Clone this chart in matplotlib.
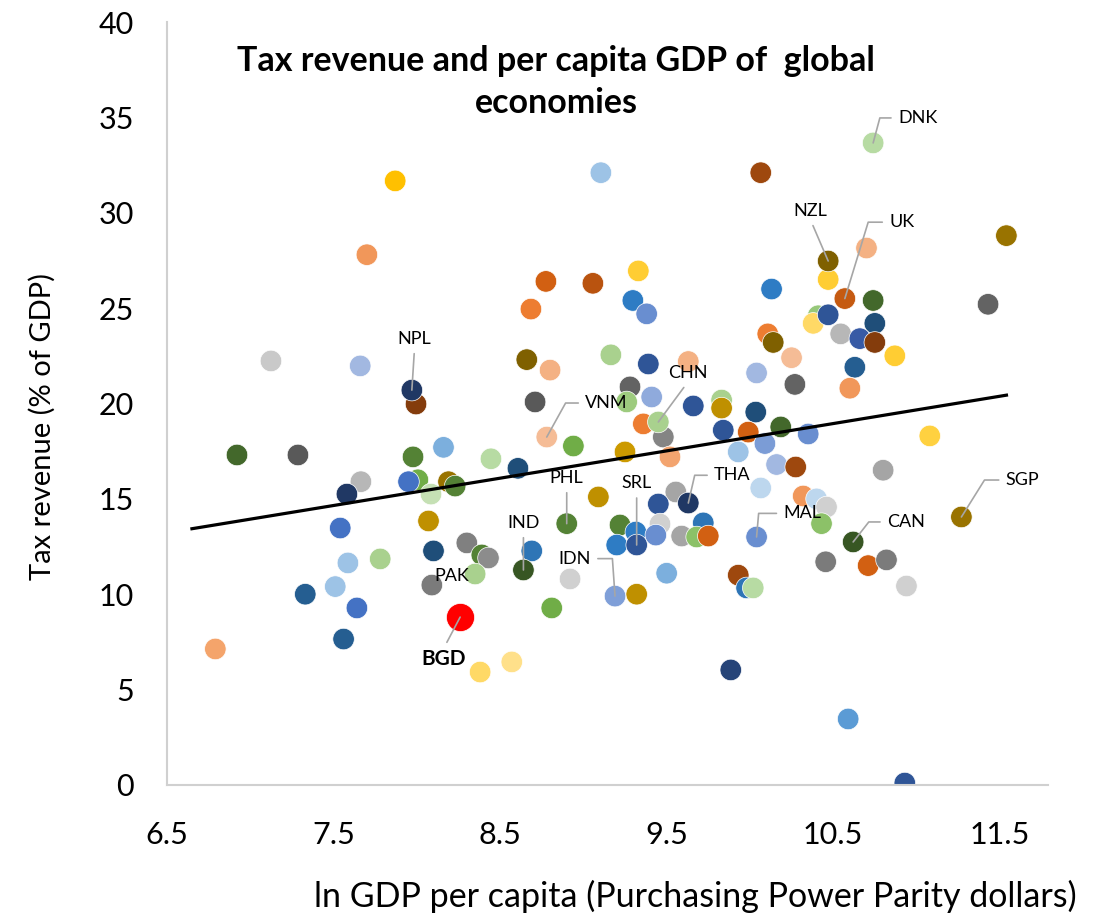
import matplotlib
matplotlib.use("Agg")
import matplotlib.pyplot as plt
import numpy as np

plt.rcParams['font.family'] = ['Lato', 'DejaVu Sans']

# ln GDP per capita (PPP), tax revenue (% of GDP), marker colour
ln_gdp = [
    7.87, 7.70, 9.105, 8.775, 9.057, 9.33, 8.685, 9.297, 9.38, 9.165,
    10.065, 10.70, 10.47, 11.54, 10.13, 10.74, 11.43, 10.41, 10.38,
    10.47, 10.545, 10.75, 10.107, 10.14, 10.66, 10.75, 10.87, 10.25, 10.04, 10.27,
    10.63, 10.60, 10.035, 9.99, 10.185, 10.35, 10.09, 9.93, 10.16, 10.275,
    11.08, 10.80, 10.065, 10.32, 10.40, 10.46, 10.43, 10.455, 10.71, 10.82,
    10.94, 9.93, 9.98, 10.02, 8.66, 8.80, 9.39, 9.63, 9.28, 8.71,
    9.26, 9.41, 9.66, 9.83, 9.83, 9.36, 9.48, 8.94, 9.84, 9.25,
    9.52, 8.445, 8.607, 8.16, 9.09, 9.555, 9.45, 9.22, 9.46, 9.72,
    9.315, 9.435, 9.59, 9.68, 9.75, 9.20, 8.30, 8.39, 8.43, 8.69,
    8.35, 8.92, 9.50, 9.32, 8.81, 9.885, 10.59, 10.93, 7.124, 7.66,
    7.995, 6.92, 7.286, 7.977, 7.664, 7.58, 8.006, 7.95, 8.085, 8.19,
    8.23, 8.07, 7.54, 8.10, 7.586, 7.78, 7.51, 7.33, 7.64, 7.56,
    6.79, 8.38, 8.57,
]
tax_rev = [
    31.67, 27.8, 32.1, 26.4, 26.3, 26.95, 24.95, 25.4, 24.7, 22.55,
    32.1, 28.15, 26.5, 28.8, 26.0, 25.4, 25.2, 24.6, 24.2,
    24.65, 23.65, 24.2, 23.65, 23.2, 23.4, 23.2, 22.5, 22.4, 21.6, 21.0,
    21.9, 20.8, 19.55, 18.5, 18.77, 18.4, 17.9, 17.46, 16.8, 16.67,
    18.3, 16.5, 15.57, 15.15, 15.0, 14.57, 13.7, 11.7, 11.5, 11.8,
    10.43, 11.0, 10.33, 10.33, 22.3, 21.75, 22.07, 22.2, 20.87, 20.08,
    20.08, 20.34, 19.87, 20.18, 19.76, 18.93, 18.24, 17.77, 18.6, 17.46,
    17.2, 17.1, 16.6, 17.7, 15.1, 15.36, 14.73, 13.63, 13.68, 13.74,
    13.26, 13.1, 13.05, 13.0, 13.05, 12.58, 12.69, 12.06, 11.9, 12.27,
    11.06, 10.8, 11.1, 10.0, 9.28, 6.03, 3.46, 0.1, 22.23, 21.97,
    19.97, 17.3, 17.3, 17.2, 15.9, 15.25, 16.0, 15.9, 15.25, 15.9,
    15.67, 13.84, 13.47, 12.27, 11.64, 11.85, 10.4, 10.0, 9.28, 7.65,
    7.13, 5.92, 6.45,
]
dot_colors = [
    '#FFC000', '#F1975A', '#9DC3E6', '#D26012', '#B9530F', '#FFCD33', '#ED7D31', '#2E7CC4', '#698ED0', '#A9D18E',
    '#9E480E', '#F4B183', '#FFCD33', '#997300', '#2E7CC4', '#43682B', '#636363', '#97C87A', '#FFD966',
    '#2F5597', '#B7B7B7', '#1F4E79', '#ED7D31', '#7F6000', '#375AA5', '#843C0C', '#FFCD33', '#F5BC96', '#A2B8E1', '#636363',
    '#255E91', '#F1975A', '#1F4E79', '#D26012', '#43682B', '#698ED0', '#7B9CD6', '#9DC3E6', '#A2B8E1', '#9E480E',
    '#FFD140', '#A5A5A5', '#BDD7EE', '#F1975A', '#BDD7EE', '#D0D0D0', '#8CC168', '#7B7B7B', '#D26012', '#7B7B7B',
    '#D0D0D0', '#9E480E', '#2E75B6', '#B7DBA3', '#7F6000', '#F4B183', '#2F5597', '#F4B183', '#636363', '#595959',
    '#9DCB7E', '#8FAADC', '#2F5597', '#A9D18E', '#BF9000', '#ED7D31', '#848484', '#70AD47', '#2F5597', '#CC9A00',
    '#F3A46F', '#B7DBA3', '#1F4E79', '#7CAFDD', '#BF9000', '#A5A5A5', '#2F5597', '#548235', '#D0D0D0', '#2E75B6',
    '#2E7CC4', '#698ED0', '#A5A5A5', '#8CC168', '#D26012', '#2E7CC4', '#808080', '#548235', '#8C8C8C', '#2E75B6',
    '#A9D18E', '#D0D0D0', '#7CAFDD', '#BF9000', '#70AD47', '#264478', '#5B9BD5', '#2F5597', '#C9C9C9', '#A2B8E1',
    '#843C0C', '#43682B', '#595959', '#548235', '#B7B7B7', '#203864', '#70AD47', '#4472C4', '#C5E0B4', '#997300',
    '#548235', '#BF9000', '#4472C4', '#1F4E79', '#9DC3E6', '#A9D18E', '#9DC3E6', '#255E91', '#4472C4', '#255E91',
    '#F4A46B', '#FFD966', '#FFE08A',
]

# labelled economies
lab_names = ['DNK', 'NZL', 'UK', 'NPL', 'VNM', 'CHN', 'PHL', 'SRL', 'THA', 'IND', 'IDN', 'PAK', 'MAL', 'CAN', 'SGP']
lab_x = [10.74, 10.47, 10.57, 7.97, 8.78, 9.45, 8.90, 9.32, 9.63, 8.64, 9.19, 8.09, 10.04, 10.62, 11.27]
lab_y = [33.66, 27.47, 25.5, 20.7, 18.24, 19.03, 13.7, 12.58, 14.78, 11.27, 9.9, 10.48, 13.0, 12.74, 14.05]
lab_colors = ['#B7DBA3', '#7F6000', '#C55A11', '#203864', '#F5BC96', '#A9D18E', '#548235', '#2F5597',
              '#203864', '#375623', '#7F9FD8', '#7B7B7B', '#698ED0', '#375623', '#997300']

bgd_x, bgd_y = 8.26, 8.8

# linear trend line as drawn in the source
trend_x = [6.64, 11.55]
trend_y = [13.42, 20.45]

# label offsets (points) and leader style
label_style = {
    'DNK': ((32, 18), 'angle', 75, (0, 0.5)),
    'NZL': ((-13, 36), 'arc3', None, (0.5, 0)),
    'UK': ((41, 55), 'angle', 73, (0, 0.5)),
    'NPL': ((2, 37), 'arc3', None, (0.5, 0)),
    'VNM': ((43, 24.5), 'angle', 61, (0, 0.5)),
    'CHN': ((21.6, 35), 'arc3', None, (0.5, 0)),
    'PHL': ((0, 33), 'arc3', None, (0.5, 0)),
    'SRL': ((0, 44.6), 'arc3', None, (0.5, 0)),
    'THA': ((31.7, 20), 'angle', 77, (0, 0.5)),
    'IND': ((0, 34), 'arc3', None, (0.5, 0)),
    'IDN': ((-29, 27), 'angle', 94, (1, 0.5)),
    'PAK': ((14.4, 6.5), None, None, None),
    'MAL': ((33, 17), 'angle', 85, (0, 0.5)),
    'CAN': ((38, 14.4), 'angle', 52, (0, 0.5)),
    'SGP': ((44, 26.6), 'angle', 58, (0, 0.5)),
}

fig = plt.figure(figsize=(10.99, 9.17), dpi=100)
ax = fig.add_axes([0.152, 0.144, 0.8016, 0.832])

ax.scatter(ln_gdp, tax_rev, s=240, c=dot_colors, edgecolors='white', linewidths=0.5, zorder=2)
ax.scatter(lab_x, lab_y, s=240, c=lab_colors, edgecolors='white', linewidths=0.5, zorder=2)
ax.scatter([bgd_x], [bgd_y], s=410, c='#FF0000', edgecolors='white', linewidths=0.5, zorder=3)

ax.plot(trend_x, trend_y, color='black', lw=2.3, zorder=4, solid_capstyle='butt')

leader = '#A6A6A6'
for name, x, y in zip(lab_names, lab_x, lab_y):
    off, conn, angb, rel = label_style[name]
    if conn is None:
        ax.annotate(name, (x, y), xytext=off, textcoords='offset points',
                    ha='center', va='center', fontsize=13, zorder=6)
        continue
    cs = 'arc3' if conn == 'arc3' else 'angle,angleA=0,angleB=%g' % angb
    ax.annotate(name, (x, y), xytext=off, textcoords='offset points',
                ha='center', va='center', fontsize=13, zorder=6,
                arrowprops=dict(arrowstyle='-', color=leader, lw=1.2,
                                shrinkA=3, shrinkB=0, relpos=rel,
                                connectionstyle=cs))

ax.annotate('BGD', (bgd_x, bgd_y), xytext=(-12, -30), textcoords='offset points',
            ha='center', va='center', fontsize=15, fontweight='bold', zorder=6,
            arrowprops=dict(arrowstyle='-', color=leader, lw=1.2, shrinkA=3,
                            shrinkB=0, relpos=(0.5, 1)))

ax.set_xlim(6.5, 11.79)
ax.set_ylim(0, 40)
ax.set_xticks(np.arange(6.5, 12, 1.0))
ax.set_xticklabels(['%.1f' % t for t in np.arange(6.5, 12, 1.0)])
ax.set_yticks(np.arange(0, 41, 5))
ax.tick_params(length=0, labelsize=22, pad=24)
ax.tick_params(axis='x', pad=26)

for side in ['top', 'right']:
    ax.spines[side].set_visible(False)
for side in ['left', 'bottom']:
    ax.spines[side].set_color('#D0D0D0')
    ax.spines[side].set_linewidth(1.5)

ax.set_xlabel('ln GDP per capita (Purchasing Power Parity dollars)', fontsize=24.5)
ax.xaxis.set_label_coords(0.6, -0.125)
ax.set_ylabel('Tax revenue (% of GDP)', fontsize=21)
ax.yaxis.set_label_coords(-0.126, 0.47)

fig.text(0.506, 0.911, 'Tax revenue and per capita GDP of  global\neconomies',
         ha='center', va='center', fontsize=24.5, fontweight='bold', linespacing=1.38)

fig.savefig('out.png', dpi=100)
